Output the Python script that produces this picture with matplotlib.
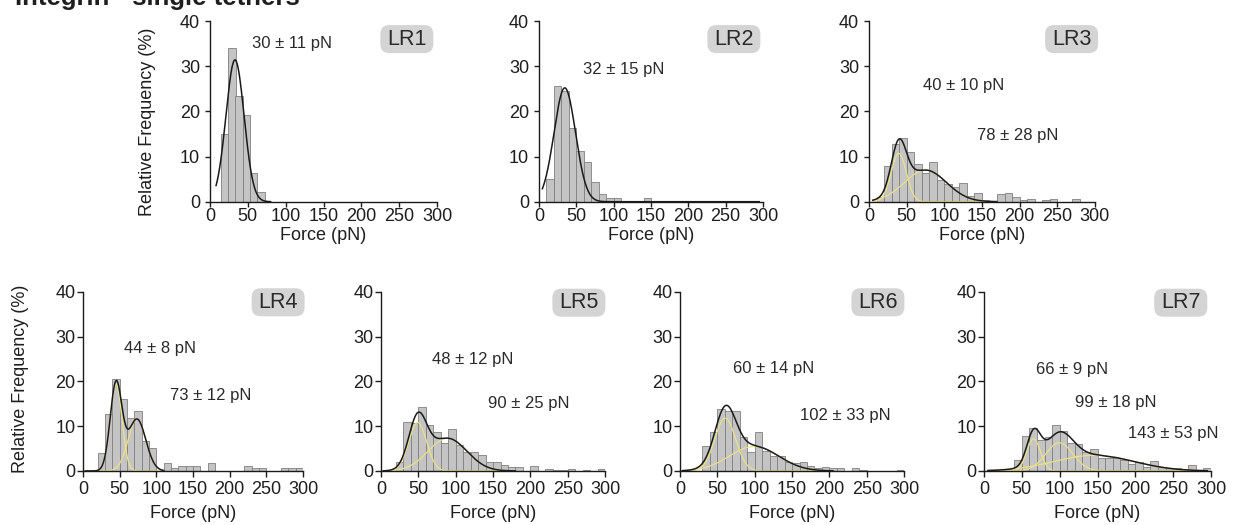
import numpy as np
import matplotlib
matplotlib.use("Agg")
import matplotlib.pyplot as plt
from matplotlib.patches import FancyBboxPatch

plt.rcParams['font.family'] = ['Liberation Sans', 'DejaVu Sans']

# ---------------- data ----------------
title_text = "Integrin - single tethers"
panel_names = ["LR1", "LR2", "LR3", "LR4", "LR5", "LR6", "LR7"]

# histogram bin centres (pN) and relative frequencies (%)
lr1_centers = [19.1, 28.9, 38.4, 48.0, 57.4, 67.2]
lr1_freq = [15.0, 34.0, 23.3, 19.2, 6.4, 2.1]

lr2_centers = [15, 25, 35, 45, 55, 65, 75, 85, 95, 105, 115, 125, 135, 145]
lr2_freq = [5.1, 25.6, 24.5, 16.3, 11.2, 8.7, 4.3, 1.7, 0.9, 0.9, 0, 0, 0, 0.8]

lr3_centers = [15, 25, 35, 45, 55, 65, 75, 85, 95, 105, 115, 125, 135, 145,
               155, 165, 175, 185, 195, 205, 215, 225, 235, 245, 255, 265, 275]
lr3_freq = [1.0, 8.0, 12.7, 14.2, 10.9, 8.4, 6.3, 8.8, 4.7, 3.9, 3.3, 4.2, 1.3, 2.0,
            0.4, 0.2, 1.6, 2.0, 1.1, 0.4, 0.7, 0, 0.4, 0.7, 0, 0, 0.7]

lr4_centers = [25, 35, 45, 55, 65, 75, 85, 95, 105, 115, 125, 135, 145, 155,
               165, 175, 185, 195, 205, 215, 225, 235, 245, 255, 265, 275, 285, 295]
lr4_freq = [4.0, 12.8, 20.6, 16.0, 11.8, 13.3, 6.8, 5.1, 0, 1.7, 0.7, 1.1, 1.1, 1.1,
            0, 1.7, 0, 0, 0, 0, 1.1, 0.7, 0.7, 0, 0, 0.6, 0.6, 0.6]

lr5_centers = [25, 35, 45, 55, 65, 75, 85, 95, 105, 115, 125, 135, 145, 155,
               165, 175, 185, 195, 205, 215, 225, 235, 245, 255, 265, 275, 285, 295]
lr5_freq = [2.1, 10.9, 10.8, 14.4, 10.3, 8.7, 6.3, 9.3, 5.9, 4.2, 4.2, 3.5, 2.1, 2.0,
            1.4, 0.9, 0.9, 0, 1.1, 0, 0.4, 0.3, 0.3, 0.4, 0, 0.3, 0, 0.4]

lr6_centers = [35, 45, 55, 65, 75, 85, 95, 105, 115, 125, 135, 145, 155,
               165, 175, 185, 195, 205, 215, 225, 235, 245, 255, 265, 275, 285, 295]
lr6_freq = [5.5, 8.6, 13.8, 13.5, 13.5, 7.5, 4.2, 8.8, 4.5, 3.4, 3.4, 1.9, 1.8,
            1.9, 1.2, 0.6, 0.9, 0.6, 0.6, 0, 0.6, 0.3, 0, 0, 0, 0, 0.3]

lr7_centers = [45, 55, 65, 75, 85, 95, 105, 115, 125, 135, 145, 155, 165,
               175, 185, 195, 205, 215, 225, 235, 245, 255, 265, 275, 285, 295]
lr7_freq = [2.5, 7.8, 9.5, 7.0, 7.5, 10.3, 8.9, 6.3, 6.0, 4.3, 4.9, 3.0, 3.0,
            3.0, 2.4, 1.5, 1.9, 1.0, 2.3, 1.0, 0.6, 0.6, 0.4, 1.3, 0.3, 0.7]

bin_widths = [9.7, 10, 10, 10, 10, 10, 10]

# Gaussian fit components: (amplitude %, mean pN, sd pN)
lr1_fits = [(31.4, 33.0, 12.0)]
lr2_fits = [(25.2, 34.5, 14.4)]
lr3_fits = [(10.7, 39.5, 10.0), (7.0, 75.0, 28.0)]
lr4_fits = [(19.5, 45.0, 8.0), (11.6, 73.5, 12.0)]
lr5_fits = [(10.8, 49.0, 12.0), (7.3, 89.0, 26.0)]
lr6_fits = [(11.8, 60.5, 14.0), (5.5, 99.0, 33.0)]
lr7_fits = [(7.2, 65.5, 9.0), (6.3, 99.5, 18.0), (3.5, 145.0, 53.0)]

fit_ranges = [(8, 80), (4.5, 295), (5, 170), (3, 110), (3, 180), (3, 205), (5, 295)]

# fitted values printed on the panels
lr1_labels = ["30 ± 11 pN"]
lr2_labels = ["32 ± 15 pN"]
lr3_labels = ["40 ± 10 pN", "78 ± 28 pN"]
lr4_labels = ["44 ± 8 pN", "73 ± 12 pN"]
lr5_labels = ["48 ± 12 pN", "90 ± 25 pN"]
lr6_labels = ["60 ± 14 pN", "102 ± 33 pN"]
lr7_labels = ["66 ± 9 pN", "99 ± 18 pN", "143 ± 53 pN"]

x_ticks = [0, 50, 100, 150, 200, 250, 300]
y_ticks = [0, 10, 20, 30, 40]

# ---------------- layout ----------------
centers = [lr1_centers, lr2_centers, lr3_centers, lr4_centers, lr5_centers, lr6_centers, lr7_centers]
freqs = [lr1_freq, lr2_freq, lr3_freq, lr4_freq, lr5_freq, lr6_freq, lr7_freq]
fits = [lr1_fits, lr2_fits, lr3_fits, lr4_fits, lr5_fits, lr6_fits, lr7_fits]
labels = [lr1_labels, lr2_labels, lr3_labels, lr4_labels, lr5_labels, lr6_labels, lr7_labels]

axes_rects = [
    [0.1702, 0.6158, 0.1840, 0.3442],
    [0.4368, 0.6158, 0.1815, 0.3442],
    [0.7042, 0.6158, 0.1831, 0.3442],
    [0.0673, 0.1029, 0.1783, 0.3410],
    [0.3088, 0.1029, 0.1815, 0.3410],
    [0.5511, 0.1029, 0.1815, 0.3410],
    [0.7974, 0.1029, 0.1840, 0.3410],
]
label_pos = [
    [(108, 35.0)],
    [(114, 29.3)],
    [(126, 25.8), (198, 14.6)],
    [(105, 27.4), (174, 16.8)],
    [(122.5, 25.0), (198, 15.1)],
    [(125.5, 22.8), (220.7, 12.5)],
    [(116, 22.7), (174, 15.3), (250, 8.3)],
]
box_pos = [(260, 36.0), (261, 36.0), (269, 36.0), (266, 37.7), (265, 37.6), (265, 37.7), (260, 37.6)]

TXT = '#1e1e1e'
BAR_FC = '#c4c4c4'
BAR_EC = '#808080'
YELLOW = '#ece08a'

fig = plt.figure(figsize=(12.34, 5.25), dpi=100)

def gauss(x, a, m, s):
    return a * np.exp(-(x - m) ** 2 / (2 * s ** 2))

for i in range(7):
    ax = fig.add_axes(axes_rects[i])
    top_row = i < 3
    ax.bar(centers[i], freqs[i], width=bin_widths[i], color=BAR_FC, edgecolor=BAR_EC,
           linewidth=0.6, zorder=1)
    x = np.linspace(fit_ranges[i][0], fit_ranges[i][1], 600)
    total = np.zeros_like(x)
    for (a, m, s) in fits[i]:
        comp = gauss(x, a, m, s)
        total += comp
        if len(fits[i]) > 1:
            ax.plot(x, comp, color=YELLOW, lw=0.9, zorder=2, solid_capstyle='round')
    ax.plot(x, total, color='#1a1a1a', lw=1.1, zorder=3)

    ax.set_xlim(0, 300)
    ax.set_ylim(0, 40)
    ax.set_xticks(x_ticks)
    ax.set_yticks(y_ticks)
    for sp in ['top', 'right']:
        ax.spines[sp].set_visible(False)
    for sp in ['left', 'bottom']:
        ax.spines[sp].set_linewidth(1.0)
        ax.spines[sp].set_color('#1a1a1a')
        ax.spines[sp].set_zorder(4)
    if top_row:
        ax.tick_params(axis='x', length=3.6, width=1.0, pad=1.2, labelsize=13, colors=TXT)
        ax.tick_params(axis='y', length=3.6, width=1.0, pad=3.6, labelsize=13, colors=TXT)
    else:
        ax.tick_params(axis='x', length=4.1, width=1.0, pad=3.4, labelsize=13, colors=TXT)
        ax.tick_params(axis='y', length=4.3, width=1.0, pad=1.0, labelsize=13, colors=TXT)
    ax.set_xlabel("Force (pN)", fontsize=13, color=TXT, va='top')
    ax.xaxis.set_label_coords(0.5, -0.138 if top_row else -0.19)

    for txt, (lx, ly) in zip(labels[i], label_pos[i]):
        ax.text(lx, ly, txt, ha='center', va='center', fontsize=12, color='#2a2a2a', zorder=5)

    # rounded grey name box
    bx, by = box_pos[i]
    disp = ax.transData.transform((bx, by))
    cx, cy = fig.dpi_scale_trans.inverted().transform(disp)
    w, h = 0.53, 0.28
    box = FancyBboxPatch((cx - w / 2, cy - h / 2), w, h,
                         boxstyle='round,pad=0,rounding_size=0.09',
                         transform=fig.dpi_scale_trans, fc='#d4d4d4', ec='none',
                         clip_on=False, zorder=5)
    ax.add_artist(box)
    ax.text(bx, by, panel_names[i], ha='center', va='center', fontsize=15.5,
            color='#2a2a2a', zorder=6, clip_on=False)

fig.text(148 / 1234, 1 - 121.5 / 525, "Relative Frequency (%)", rotation=90,
         ha='center', va='center', fontsize=13, color=TXT)
fig.text(21 / 1234, 1 - 379 / 525, "Relative Frequency (%)", rotation=90,
         ha='center', va='center', fontsize=13, color=TXT)

# title: the reference shows only the lower part of this line (cropped at the top edge)
fig.text(15 / 1234, 1 - 5 / 525, title_text, ha='left', va='baseline',
         fontsize=18.5, fontweight='bold', color=TXT)

fig.savefig("out.png", dpi=100)
